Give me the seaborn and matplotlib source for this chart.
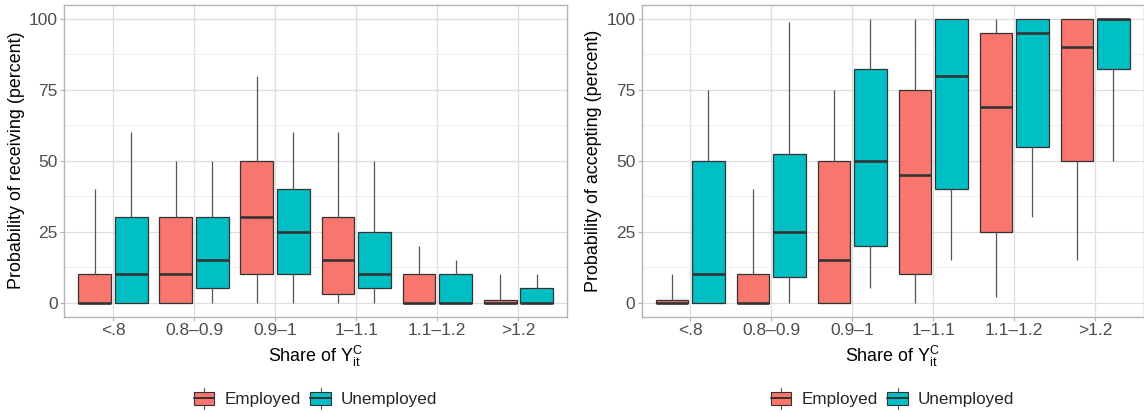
import numpy as np
import pandas as pd
import matplotlib
matplotlib.use("Agg")
import matplotlib.pyplot as plt
import seaborn as sns
from matplotlib.legend_handler import HandlerBase
from matplotlib.patches import Rectangle
from matplotlib.lines import Line2D

# ---------------- data ----------------
categories = ["<.8", "0.8\u20130.9", "0.9\u20131", "1\u20131.1", "1.1\u20131.2", ">1.2"]
groups = ["Employed", "Unemployed"]
colors = ["#F8766D", "#00BFC4"]

# five-number summaries per category: [min, q1, median, q3, max]
receiving_employed = [[0, 0, 0, 10, 40], [0, 0, 10, 30, 50], [0, 10, 30, 50, 80],
                      [0, 3, 15, 30, 60], [0, 0, 0, 10, 20], [0, 0, 0, 1, 10]]
receiving_unemployed = [[0, 0, 10, 30, 60], [0, 5, 15, 30, 50], [0, 10, 25, 40, 60],
                        [0, 5, 10, 25, 50], [0, 0, 0, 10, 15], [0, 0, 0, 5, 10]]
accepting_employed = [[0, 0, 0, 1, 10], [0, 0, 0, 10, 40], [0, 0, 15, 50, 75],
                      [0, 10, 45, 75, 100], [2, 25, 69, 95, 100], [15, 50, 90, 100, 100]]
accepting_unemployed = [[0, 0, 10, 50, 75], [0, 9, 25, 52.5, 99], [5, 20, 50, 82.5, 100],
                        [15, 40, 80, 100, 100], [30, 55, 95, 100, 100], [50, 82.5, 100, 100, 100]]

yticks = [0, 25, 50, 75, 100]
ylabels = ["Probability of receiving (percent)", "Probability of accepting (percent)"]
xlabel = r"Share of $\mathregular{Y_{it}^{C}}$"


def long_frame(emp, unemp):
    rows = []
    for g, series in zip(groups, [emp, unemp]):
        for cat, stats in zip(categories, series):
            for v in stats:
                rows.append({"category": cat, "group": g, "value": v})
    return pd.DataFrame(rows)


# ---------------- style ----------------
sns.set_style("white")
plt.rcParams["font.family"] = ["Liberation Sans", "DejaVu Sans"]
plt.rcParams["mathtext.fontset"] = "custom"
plt.rcParams["mathtext.rm"] = "Liberation Sans"
plt.rcParams["mathtext.it"] = "Liberation Sans:italic"

EDGE = "#333333"
GRID = "#DEDEDE"
BORDER = "#B3B3B3"
TICKTXT = "#4D4D4D"


class BoxHandler(HandlerBase):
    def create_artists(self, legend, orig_handle, xdescent, ydescent,
                       width, height, fontsize, trans):
        fc = orig_handle.get_facecolor()
        x0, y0 = -xdescent, -ydescent
        xc = x0 + width / 2
        whisk = height * 0.3
        arts = [
            Line2D([xc, xc], [y0 + height, y0 + height + whisk], color="#555555", lw=0.8, transform=trans),
            Line2D([xc, xc], [y0, y0 - whisk], color="#555555", lw=0.8, transform=trans),
            Rectangle((x0, y0), width, height, facecolor=fc, edgecolor=EDGE, lw=0.8, transform=trans),
            Line2D([x0, x0 + width], [y0 + height / 2] * 2, color=EDGE, lw=1.4, transform=trans),
        ]
        return arts


fig = plt.figure(figsize=(11.44, 4.13), dpi=100)
positions = [[64.3 / 1144, 96.3 / 413, 502.7 / 1144, 312 / 413],
             [641.7 / 1144, 96.3 / 413, 502.0 / 1144, 312 / 413]]
datasets = [(receiving_employed, receiving_unemployed),
            (accepting_employed, accepting_unemployed)]

for pos, (emp, unemp), ylab in zip(positions, datasets, ylabels):
    ax = fig.add_axes(pos)
    df = long_frame(emp, unemp)
    ax.set_axisbelow(True)
    sns.boxplot(data=df, x="category", y="value", hue="group",
                order=categories, hue_order=groups, palette=colors,
                saturation=1, width=0.9, gap=0.1, whis=(0, 100),
                showcaps=False, fliersize=0, linecolor=EDGE, linewidth=0.9,
                medianprops={"linewidth": 1.9, "color": EDGE},
                whiskerprops={"color": "#555555", "linewidth": 0.9},
                legend=False, ax=ax)
    ax.set_xlim(-0.6, 5.6)
    ax.set_ylim(-5, 105)
    ax.set_yticks(yticks)
    ax.set_yticks([12.5, 37.5, 62.5, 87.5], minor=True)
    ax.grid(True, which="major", axis="both", color=GRID, lw=0.9)
    ax.grid(True, which="minor", axis="y", color="#EBEBEB", lw=0.6)
    for s in ax.spines.values():
        s.set_visible(True)
        s.set_color(BORDER)
        s.set_linewidth(1.0)
    ax.tick_params(axis="both", which="major", colors=BORDER, labelcolor=TICKTXT,
                   labelsize=12.5, length=2.7, width=0.8, pad=2, bottom=True, left=True)
    ax.tick_params(axis="y", which="minor", length=0)
    ax.set_xlabel(xlabel, fontsize=12.9, color="black")
    ax.set_ylabel(ylab, fontsize=12.9, color="black")
    ax.xaxis.set_label_coords(0.5, -0.087)
    ax.yaxis.set_label_coords(-0.079, 0.5)

    handles = [Rectangle((0, 0), 1, 1, facecolor=c) for c in colors]
    ax.legend(handles, groups, loc="center", bbox_to_anchor=(0.5, -0.266),
              ncol=2, frameon=False, fontsize=12.3, handlelength=1.2,
              handleheight=0.8, handletextpad=0.6, columnspacing=0.55,
              handler_map={Rectangle: BoxHandler()})

fig.savefig("out.png", dpi=100)
